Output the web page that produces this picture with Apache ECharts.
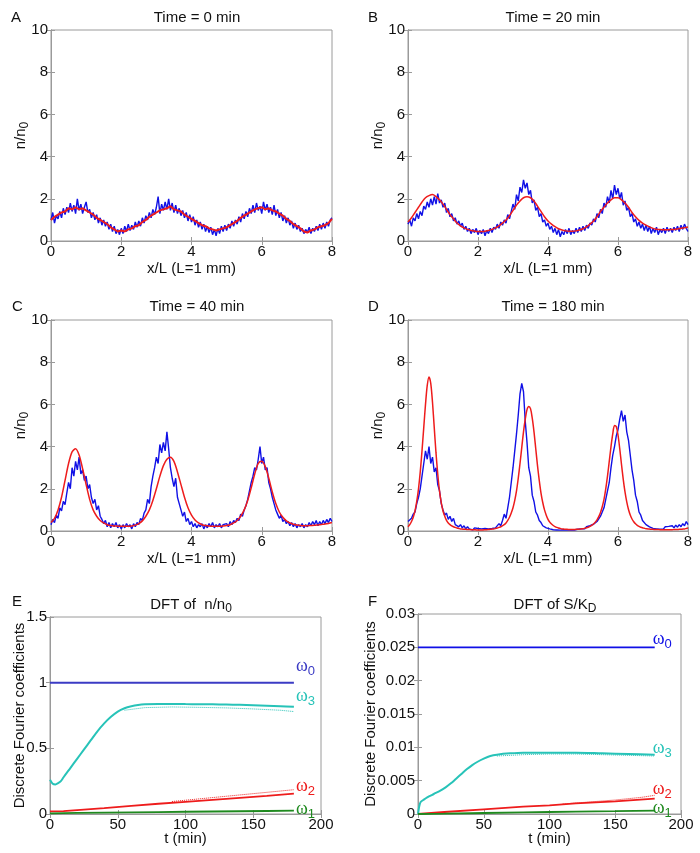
<!DOCTYPE html>
<html><head><meta charset="utf-8">
<script src="https://cdn.jsdelivr.net/npm/echarts@6/dist/echarts.min.js"></script>
<style>html,body{margin:0;padding:0;background:#fff}#c{width:700px;height:853px}</style>
</head><body><div id="c"></div><script>
// ---------- data ----------
const xStepBlue = 0.05;   // blue profiles sampled every 0.05 L
const xStepRed = 0.1;     // red (model) profiles sampled every 0.1 L (A-C)
const xStepRedD = 0.05;   // red model in D sampled every 0.05 L

const blueA = [1.0,1.35,0.85,1.2,1.05, 1.4,1.1,1.55,1.25,1.6, 1.35,1.8,1.4,1.7,1.3, 2.0,1.45,1.75,1.3,1.6,
  1.85,1.35,1.5,1.1,1.35, 1.0,1.25,0.85,1.1,0.75, 1.0,0.7,0.9,0.55,0.8, 0.45,0.7,0.35,0.55,0.3,
  0.6,0.35,0.7,0.45,0.8, 0.5,0.75,0.55,0.9,0.65, 0.95,0.7,1.1,0.85,1.2, 1.0,1.35,1.1,1.5,1.25,
  1.6,2.1,1.3,1.75,1.45, 1.85,1.5,2.0,1.45,1.8, 1.35,1.7,1.3,1.55,1.2, 1.45,1.1,1.35,0.95,1.25,
  0.9,1.15,0.75,1.0,0.65, 0.9,0.55,0.8,0.45,0.7, 0.4,0.65,0.3,0.55,0.25, 0.6,0.35,0.7,0.45,0.75,
  0.5,0.8,0.6,0.95,0.7, 1.0,0.8,1.15,0.9,1.3, 1.05,1.4,1.15,1.55,1.3, 1.7,1.35,1.8,1.45,1.65,
  1.3,1.85,1.45,1.75,1.35, 1.6,1.25,1.7,1.2,1.5, 1.1,1.35,0.95,1.2,0.85, 1.1,0.75,0.95,0.6,0.85,
  0.55,0.75,0.45,0.6,0.35, 0.55,0.4,0.65,0.35,0.6, 0.45,0.7,0.5,0.8,0.55, 0.85,0.6,0.9,0.7,1.0, 1.1];
const redA = [1.0,1.15,1.25,1.35,1.4,1.55,1.5,1.6,1.5,1.55, 1.45,1.35,1.25,1.1,1.0,0.9,0.8,0.65,0.55,0.45,
  0.5,0.45,0.55,0.6,0.7,0.75,0.9,1.0,1.15,1.25, 1.35,1.45,1.5,1.55,1.65,1.5,1.45,1.4,1.25,1.15,
  1.05,0.95,0.85,0.75,0.7,0.6,0.55,0.5,0.55,0.6, 0.65,0.75,0.85,0.95,1.1,1.2,1.3,1.4,1.5,1.55,
  1.6,1.5,1.55,1.45,1.4,1.3,1.2,1.05,0.95,0.8, 0.7,0.6,0.45,0.4,0.5,0.55,0.65,0.7,0.75,0.85, 1.05];

const blueB = [0.8,1.0,0.7,1.1,0.95, 1.3,1.05,1.4,1.2,1.65, 1.5,1.85,1.6,2.0,1.7, 2.1,1.75,2.25,1.8,1.95,
  1.6,1.8,1.35,1.55,1.15, 1.3,0.95,1.1,0.8,0.95, 0.7,0.85,0.55,0.7,0.45, 0.6,0.35,0.55,0.4,0.6,
  0.3,0.5,0.35,0.55,0.25, 0.5,0.35,0.6,0.4,0.65, 0.55,0.8,0.6,0.9,0.75, 1.0,0.85,1.25,1.05,1.4,
  1.75,1.5,2.2,1.9,2.55, 2.3,2.9,2.5,2.75,2.2, 2.4,1.8,1.95,1.45,1.6, 1.15,1.3,0.9,1.0,0.7,
  0.85,0.55,0.7,0.4,0.6, 0.3,0.55,0.2,0.45,0.3, 0.55,0.35,0.6,0.3,0.5, 0.35,0.6,0.4,0.65,0.45,
  0.7,0.5,0.75,0.6,0.85, 0.75,1.05,0.9,1.3,1.1, 1.5,1.3,1.8,1.6,2.1, 1.8,2.4,2.0,2.65,2.2,
  2.5,2.0,2.3,1.7,1.9, 1.45,1.6,1.15,1.3,0.9, 1.05,0.7,0.9,0.6,0.8, 0.5,0.75,0.45,0.7,0.35,
  0.6,0.4,0.65,0.3,0.55, 0.4,0.6,0.35,0.65,0.45, 0.6,0.4,0.65,0.5,0.7, 0.45,0.75,0.55,0.8,0.6, 0.45];
const redB = [0.9,1.1,1.35,1.6,1.85,2.05,2.15,2.2,2.1,1.95, 1.75,1.5,1.25,1.05,0.85,0.72,0.62,0.55,0.5,0.47,
  0.45,0.45,0.46,0.5,0.55,0.62,0.72,0.85,1.0,1.2, 1.45,1.7,1.9,2.05,2.1,2.05,1.9,1.65,1.4,1.15,
  0.95,0.8,0.68,0.58,0.52,0.48,0.46,0.46,0.48,0.52, 0.58,0.67,0.8,0.95,1.15,1.4,1.6,1.8,1.95,2.05,
  2.05,1.95,1.8,1.6,1.35,1.15,0.98,0.85,0.75,0.67, 0.6,0.56,0.54,0.53,0.53,0.54,0.55,0.57,0.6,0.63, 0.66];

const blueC = [0.3,0.55,0.4,0.75,0.6, 1.1,0.95,1.4,1.25,1.8, 2.3,2.0,3.0,2.6,3.3, 2.9,3.5,2.7,2.9,2.4,
  2.6,2.0,2.2,1.6,1.3, 1.5,1.0,1.2,0.7,0.55, 0.35,0.5,0.2,0.4,0.15, 0.35,0.2,0.4,0.15,0.3,
  0.1,0.3,0.15,0.35,0.2, 0.3,0.1,0.35,0.2,0.4, 0.3,0.6,0.5,0.85,1.0, 1.5,1.3,2.1,2.6,3.0,
  3.5,3.2,4.1,3.7,4.2, 3.8,4.7,3.9,3.0,2.5, 2.1,2.5,1.6,1.3,1.0, 0.7,0.9,0.45,0.6,0.3,
  0.45,0.2,0.35,0.15,0.3, 0.2,0.35,0.1,0.3,0.15, 0.35,0.2,0.4,0.15,0.3, 0.2,0.35,0.15,0.3,0.25,
  0.35,0.2,0.45,0.3,0.5, 0.4,0.6,0.5,0.8,0.7, 1.0,1.2,1.5,1.9,2.3, 2.6,3.0,2.9,3.4,4.0,
  3.2,3.5,2.9,3.0,2.3, 2.0,1.6,1.3,1.0,0.8, 0.6,0.75,0.45,0.55,0.35, 0.45,0.25,0.4,0.2,0.35,
  0.15,0.3,0.2,0.35,0.15, 0.3,0.2,0.4,0.25,0.45, 0.3,0.5,0.25,0.45,0.3, 0.5,0.35,0.55,0.4,0.6, 0.45];
const redC = [0.4,0.6,1.0,1.6,2.4,3.2,3.75,3.9,3.6,2.95, 2.2,1.5,1.0,0.7,0.5,0.38,0.3,0.26,0.24,0.23,
  0.22,0.22,0.22,0.24,0.28,0.35,0.48,0.7,1.0,1.45, 2.0,2.6,3.1,3.4,3.5,3.3,2.8,2.2,1.6,1.1,
  0.75,0.52,0.38,0.3,0.26,0.24,0.23,0.23,0.23,0.24, 0.26,0.3,0.38,0.5,0.7,1.0,1.45,2.05,2.7,3.2,
  3.3,3.05,2.5,1.85,1.3,0.9,0.65,0.48,0.38,0.32, 0.28,0.26,0.25,0.25,0.26,0.27,0.29,0.31,0.33,0.36, 0.4];

const blueD = [0.45,0.5,0.6,0.8,0.9, 1.3,1.6,2.0,2.6,3.2, 3.8,3.4,4.0,3.2,3.5, 2.8,3.0,2.2,1.9,1.3,
  1.0,0.75,0.85,0.55,0.7, 0.45,0.6,0.3,0.35,0.2, 0.3,0.15,0.25,0.1,0.2, 0.1,0.15,0.05,0.15,0.08,
  0.12,0.05,0.1,0.04,0.12, 0.06,0.1,0.05,0.12,0.08, 0.15,0.2,0.35,0.25,0.5, 0.8,0.6,1.1,1.6,2.3,
  3.0,3.8,4.6,5.5,6.5, 7.0,6.6,5.2,4.2,3.0, 2.6,1.7,1.4,0.9,0.75, 0.5,0.4,0.25,0.3,0.15,
  0.2,0.1,0.15,0.06,0.12, 0.05,0.1,0.04,0.12,0.06, 0.1,0.05,0.12,0.06,0.1, 0.05,0.12,0.08,0.14,0.1,
  0.16,0.1,0.2,0.15,0.25, 0.2,0.32,0.3,0.45,0.5, 0.7,0.9,1.1,1.5,1.9, 2.3,3.0,3.6,4.0,4.5,
  4.8,5.3,5.7,5.2,5.5, 4.7,4.3,3.6,2.9,2.4, 1.7,1.4,0.9,0.75,0.5, 0.45,0.3,0.35,0.2,0.25,
  0.12,0.2,0.1,0.18,0.08, 0.16,0.1,0.2,0.12,0.22, 0.14,0.25,0.15,0.28,0.18, 0.3,0.2,0.35,0.25,0.45, 0.3];
const redD = [0.2,0.3,0.45,0.65,0.95,1.4,2.0,2.8,3.8,4.9, 6.0,6.9,7.3,7.0,6.1,4.9,3.7,2.7,1.9,1.35,
  0.95,0.7,0.5,0.38,0.3,0.24,0.2,0.17,0.14,0.12, 0.1,0.09,0.08,0.08,0.07,0.07,0.06,0.06,0.06,0.05,
  0.05,0.05,0.05,0.05,0.06,0.06,0.07,0.08,0.09,0.1, 0.12,0.14,0.17,0.2,0.25,0.3,0.38,0.5,0.65,0.85,
  1.1,1.45,1.9,2.5,3.2,3.95,4.7,5.3,5.75,5.9, 5.8,5.35,4.7,3.9,3.1,2.4,1.8,1.35,1.0,0.75,
  0.55,0.42,0.33,0.26,0.21,0.17,0.14,0.12,0.1,0.09, 0.08,0.08,0.07,0.07,0.07,0.07,0.08,0.08,0.09,0.1,
  0.11,0.13,0.15,0.18,0.22,0.27,0.33,0.42,0.53,0.68, 0.88,1.15,1.5,2.0,2.6,3.3,4.0,4.6,5.0,4.95,
  4.55,3.9,3.15,2.45,1.85,1.38,1.02,0.76,0.57,0.44, 0.34,0.27,0.22,0.18,0.15,0.13,0.11,0.1,0.09,0.08,
  0.08,0.07,0.07,0.07,0.06,0.06,0.06,0.06,0.06,0.06, 0.06,0.06,0.07,0.07,0.07,0.08,0.08,0.09,0.1,0.12, 0.14];

// Panel E : DFT of n/n0
const tE = [0,2,4,6,8,10,15,20,25,30,35,40,45,50,55,60,65,70,80,90,100,110,120,130,140,150,160,170,180];
const e_w3 = [0.26,0.23,0.225,0.235,0.25,0.28,0.35,0.42,0.49,0.56,0.63,0.69,0.74,0.78,0.805,0.82,0.83,0.835,0.838,0.838,0.837,0.836,0.835,0.833,0.831,0.828,0.825,0.821,0.817];
const tE0 = [0,180];
const e_w0 = [1,1];
const tE2 = [0,10,20,40,60,80,100,120,140,160,180];
const e_w2 = [0.02,0.022,0.03,0.045,0.062,0.078,0.093,0.108,0.123,0.138,0.155];
const e_w1 = [0.005,0.007,0.009,0.011,0.013,0.015,0.017,0.019,0.021,0.023,0.025];
const tEdot3 = [55,70,90,110,130,150,170,180];
const e_w3dot = [0.79,0.81,0.815,0.812,0.808,0.8,0.79,0.78];
const tEdot2 = [90,110,130,150,170,180];
const e_w2dot = [0.095,0.115,0.135,0.155,0.175,0.185];

// Panel F : DFT of S/K_D
const tF = [0,1,2,4,7,12,17,21,25,29,33,37,41,45,50,55,60,70,80,100,120,140,160,180];
const f_w3 = [0,0.0012,0.0018,0.0021,0.0025,0.003,0.0035,0.004,0.0046,0.0053,0.006,0.0067,0.0073,0.0078,0.0083,0.0087,0.0089,0.0091,0.0092,0.0092,0.0092,0.0091,0.009,0.0089];
const tF0 = [0,180];
const f_w0 = [0.025,0.025];
const tF2 = [0,20,50,80,100,120,150,180];
const f_w2 = [0,0.0003,0.0007,0.0011,0.0013,0.0016,0.0019,0.0023];
const f_w1 = [0,0.00005,0.00015,0.00025,0.0003,0.00035,0.00042,0.0005];
const tFdot3 = [60,80,100,120,140,160,180];
const f_w3dot = [0.0087,0.0089,0.009,0.009,0.0089,0.0088,0.0087];
const tFdot2 = [110,130,150,170,180];
const f_w2dot = [0.0015,0.0018,0.0021,0.0025,0.0028];

const panelTitles = ['Time = 0 min','Time = 20 min','Time = 40 min','Time = 180 min'];
const panelLetters = ['A','B','C','D','E','F'];

// ---------- build ----------
const FONT = "'Liberation Sans', Arial, sans-serif";
const FS = 15;
const GRAY = '#9a9a9a';
const BLUE = '#1010e6', RED = '#ee1c1c', CYAN = '#27c3b8', GREEN = '#1f8a1f', BLUE0 = '#3b3bc4';

function stepPairs(ys, step){ return ys.map((y,i)=>[+(i*step).toFixed(3), y]); }
function zipPairs(xs, ys){ return xs.map((x,i)=>[x, ys[i]]); }

const grids = [
  {left:51, top:30, width:281, height:211},
  {left:408, top:30, width:280, height:211},
  {left:51, top:320, width:281, height:211},
  {left:408, top:320, width:280, height:211},
  {left:50, top:617, width:271, height:197},
  {left:418, top:614, width:263, height:200}
].map(g=>Object.assign(g,{show:true, borderColor:GRAY, borderWidth:1, containLabel:false}));

const lbl = {color:'#111', fontSize:FS, fontFamily:FONT};
const xAxes = [], yAxes = [];
const ranges = [
  {xmax:8, xint:2, ymax:10, yint:2},
  {xmax:8, xint:2, ymax:10, yint:2},
  {xmax:8, xint:2, ymax:10, yint:2},
  {xmax:8, xint:2, ymax:10, yint:2},
  {xmax:200, xint:50, ymax:1.5, yint:0.5},
  {xmax:200, xint:50, ymax:0.03, yint:0.005}
];
ranges.forEach((r,p)=>{
  const common = {gridIndex:p, type:'value', min:0, splitLine:{show:false},
    axisLine:{show:true, lineStyle:{color:GRAY, width:1}},
    axisTick:{show:true, inside:true, length:4, lineStyle:{color:GRAY}}};
  const isDFT = p>=4;
  xAxes.push(Object.assign({}, common, {max:r.xmax, interval:r.xint, position:'bottom',
    axisLabel:Object.assign({margin:3}, lbl),
    name: isDFT ? 't (min)' : 'x/L (L=1 mm)', nameLocation:'middle', nameGap: isDFT ? 17 : 20,
    nameMoveOverlap:false,
    nameTextStyle:{color:'#111', fontSize:FS, fontFamily:FONT}}));
  xAxes.push(Object.assign({}, common, {max:r.xmax, interval:r.xint, position:'top', axisLabel:{show:false}}));
  yAxes.push(Object.assign({}, common, {max:r.ymax, interval:r.yint, position:'left',
    axisLabel:Object.assign({margin:3}, lbl),
    name: isDFT ? 'Discrete Fourier coefficients' : '{a|n/n}{s|0}',
    nameLocation:'middle', nameRotate:90, nameGap: p===4 ? 23 : (p===5 ? 40 : 20),
    nameMoveOverlap:false,
    nameTextStyle:{color:'#111', fontSize:FS, fontFamily:FONT,
      rich:{a:{fontSize:FS, fontFamily:FONT, color:'#111'}, s:{fontSize:12, fontFamily:FONT, color:'#111', padding:[9,0,0,0]}}}}));
  yAxes.push(Object.assign({}, common, {max:r.ymax, interval:r.yint, position:'right', axisLabel:{show:false}}));
});

const series = [];
function line(p, data, color, width, extra){
  series.push(Object.assign({type:'line', xAxisIndex:2*p, yAxisIndex:2*p, data, showSymbol:false, symbol:'none',
    lineStyle:{color, width}, itemStyle:{color}, animation:false, z:3}, extra||{}));
}
line(0, stepPairs(blueA, xStepBlue), BLUE, 1.4);
line(0, stepPairs(redA, xStepRed), RED, 2);
line(1, stepPairs(blueB, xStepBlue), BLUE, 1.4);
line(1, stepPairs(redB, xStepRed), RED, 1.5, {smooth:0.3});
line(2, stepPairs(blueC, xStepBlue), BLUE, 1.4);
line(2, stepPairs(redC, xStepRed), RED, 1.5, {smooth:0.3});
line(3, stepPairs(blueD, xStepBlue), BLUE, 1.4);
line(3, stepPairs(redD, xStepRedD), RED, 1.5, {smooth:0.3});

function wLabel(idx, color, off){
  return {endLabel:{show:true, formatter:'{w|ω}{s|'+idx+'}', offset:off, distance:0,
    rich:{w:{fontFamily:"'Liberation Serif', 'DejaVu Serif', serif", fontSize:18, color},
          s:{fontFamily:FONT, fontSize:13, color, padding:[10,0,0,0]}}}};
}
// E
line(4, zipPairs(tEdot3, e_w3dot), CYAN, 1, {lineStyle:{color:CYAN, width:1, type:'dotted'}});
line(4, zipPairs(tEdot2, e_w2dot), RED, 1, {lineStyle:{color:RED, width:1, type:'dotted'}});
line(4, zipPairs(tE0, e_w0), BLUE0, 2, wLabel(0, BLUE0, [2,-16]));
line(4, zipPairs(tE, e_w3), CYAN, 2, Object.assign({smooth:0.3}, wLabel(3, CYAN, [2,-10])));
line(4, zipPairs(tE2, e_w2), RED, 1.8, wLabel(2, RED, [2,-7]));
line(4, zipPairs(tE2, e_w1), GREEN, 1.8, wLabel(1, GREEN, [2,-1]));
// F
line(5, zipPairs(tFdot3, f_w3dot), CYAN, 1, {lineStyle:{color:CYAN, width:1, type:'dotted'}});
line(5, zipPairs(tFdot2, f_w2dot), RED, 1, {lineStyle:{color:RED, width:1, type:'dotted'}});
line(5, zipPairs(tF0, f_w0), BLUE, 1.8, wLabel(0, BLUE, [-2,-8]));
line(5, zipPairs(tF, f_w3), CYAN, 2, Object.assign({smooth:0.3}, wLabel(3, CYAN, [-2,-6])));
line(5, zipPairs(tF2, f_w2), RED, 1.8, wLabel(2, RED, [-2,-9]));
line(5, zipPairs(tF2, f_w1), GREEN, 1.8, wLabel(1, GREEN, [-2,-2]));

const tStyle = {color:'#111', fontSize:FS, fontWeight:'normal', fontFamily:FONT};
const titles = [];
const tPos = [[192,5],[548,5],[192,294],[548,294]];
panelTitles.forEach((t,i)=>titles.push({text:t, left:tPos[i][0], top:tPos[i][1], textAlign:'center', textStyle:tStyle}));
titles.push({text:'DFT of  n/n{s|0}', left:186, top:589, textAlign:'center',
  textStyle:Object.assign({rich:{s:{fontSize:12, fontFamily:FONT, color:'#111', padding:[9,0,0,0]}}}, tStyle)});
titles.push({text:'DFT of S/K{s|D}', left:550, top:589, textAlign:'center',
  textStyle:Object.assign({rich:{s:{fontSize:12, fontFamily:FONT, color:'#111', padding:[9,0,0,0]}}}, tStyle)});
const lPos = [[6,5],[363,5],[7,294],[363,294],[7,589],[363,589]];
panelLetters.forEach((t,i)=>titles.push({text:t, left:lPos[i][0], top:lPos[i][1], textStyle:tStyle}));

const chart = echarts.init(document.getElementById('c'), null, {renderer:'canvas'});
chart.setOption({backgroundColor:'#fff', animation:false, title:titles, grid:grids, xAxis:xAxes, yAxis:yAxes, series});
</script></body></html>
